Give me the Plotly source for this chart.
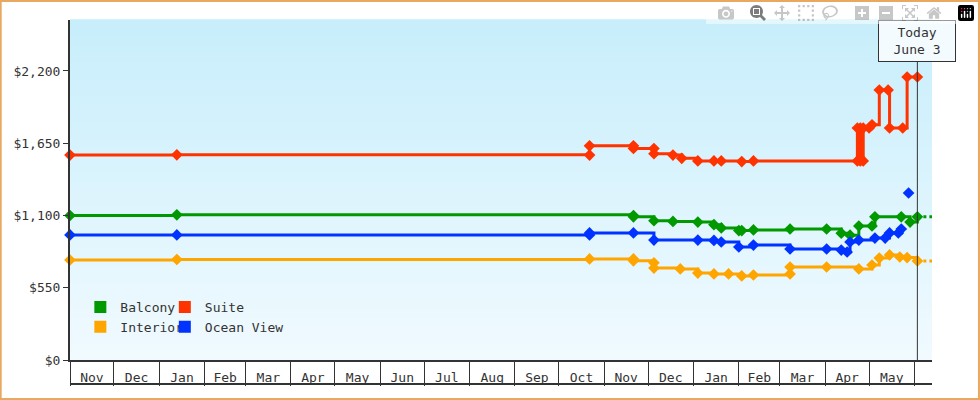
import plotly.graph_objects as go

suite_dates = ["2021-11-01","2022-01-13","2022-10-22","2022-10-22","2022-11-21","2022-11-21","2022-12-05","2022-12-05","2022-12-18","2022-12-24","2023-01-04","2023-01-15","2023-01-20","2023-02-03","2023-02-11","2023-04-23","2023-04-23","2023-04-25","2023-04-25","2023-04-27","2023-04-27","2023-05-01","2023-05-03","2023-05-08","2023-05-14","2023-05-15","2023-05-24","2023-05-27","2023-06-03"]
suite_vals = [1560,1562,1560,1630,1630,1610,1610,1570,1560,1535,1515,1515,1515,1510,1515,1515,1766,1766,1515,1515,1766,1766,1790,2055,2055,1766,1766,2154,2154]

balcony_dates = ["2021-11-01","2022-01-13","2022-11-21","2022-11-21","2022-12-05","2022-12-18","2023-01-04","2023-01-15","2023-01-20","2023-02-01","2023-02-03","2023-02-11","2023-03-08","2023-04-02","2023-04-12","2023-04-18","2023-04-24","2023-05-03","2023-05-05","2023-05-23","2023-05-29","2023-06-03"]
balcony_vals = [1100,1105,1100,1090,1060,1055,1050,1030,1005,985,985,990,997,997,965,950,1020,1020,1090,1090,1050,1090]

ocean_dates = ["2021-11-01","2022-01-13","2022-10-22","2022-10-22","2022-11-21","2022-12-05","2023-01-04","2023-01-15","2023-01-20","2023-02-01","2023-02-11","2023-03-08","2023-04-02","2023-04-12","2023-04-16","2023-04-18","2023-04-24","2023-05-05","2023-05-12","2023-05-15","2023-05-21","2023-05-23"]
ocean_vals = [952,952,952,967,967,913,913,910,898,860,875,845,845,837,822,898,913,928,928,967,967,997]
ocean_extra_dates = ["2023-05-28"]
ocean_extra_vals = [1271]

interior_dates = ["2021-11-01","2022-01-13","2022-10-22","2022-11-21","2022-11-21","2022-12-05","2022-12-05","2022-12-23","2023-01-04","2023-01-15","2023-01-25","2023-02-03","2023-02-11","2023-03-08","2023-03-08","2023-04-02","2023-04-24","2023-05-03","2023-05-08","2023-05-15","2023-05-22","2023-05-27","2023-06-03"]
interior_vals = [761,765,769,769,755,740,700,693,662,655,655,640,647,655,708,708,693,723,776,800,784,780,754]

today = "2023-06-03"
x_end = "2023-06-13"
x_start = "2021-11-01"
y_ticks = [0, 550, 1100, 1650, 2200]
y_labels = ["$0", "$550", "$1,100", "$1,650", "$2,200"]

GREEN, RED, ORANGE, BLUE = "#009900", "#ff3300", "#ffa500", "#0033ff"
fig = go.Figure()

def series(d, v, c, name):
    fig.add_trace(go.Scatter(x=d, y=v, mode="lines+markers", line=dict(color=c, width=3, shape="hv"),
                             marker=dict(symbol="diamond", size=9, color=c), name=name, showlegend=False,
                             cliponaxis=False))

series(suite_dates, suite_vals, RED, "Suite")
series(balcony_dates, balcony_vals, GREEN, "Balcony")
series(ocean_dates, ocean_vals, BLUE, "Ocean View")
series(ocean_extra_dates, ocean_extra_vals, BLUE, "Ocean View")
series(interior_dates, interior_vals, ORANGE, "Interior")
for d, v, c in [(balcony_dates, balcony_vals, GREEN), (interior_dates, interior_vals, ORANGE)]:
    fig.add_trace(go.Scatter(x=[today, x_end], y=[v[-1], v[-1]], mode="lines",
                             line=dict(color=c, width=3, dash="dot"), showlegend=False))

for name, c, lg in [("Balcony", GREEN, "legend"), ("Interior", ORANGE, "legend"), ("Suite", RED, "legend2"), ("Ocean View", BLUE, "legend2")]:
    fig.add_trace(go.Scatter(x=[None], y=[None], mode="markers", name=name,
                             marker=dict(symbol="square", size=12, color=c), legend=lg))

N = 40
shapes = []
top = (0xc8, 0xee, 0xfb); bot = (0xf0, 0xfa, 0xff)
for i in range(N):
    t = i / (N - 1)
    col = "rgb(%d,%d,%d)" % tuple(round(bot[k] + (top[k] - bot[k]) * t) for k in range(3))
    shapes.append(dict(type="rect", xref="paper", yref="paper", x0=0, x1=1, y0=i / N, y1=(i + 1) / N + 0.002,
                       fillcolor=col, line_width=0, layer="below"))
W, H, L, R, T, B = 980, 400, 70, 48, 20, 40
pw, ph = W - L - R, H - T - B
shapes.append(dict(type="line", xref="x", yref="paper", x0=today, x1=today, y0=0, y1=1, line=dict(color="#333", width=1)))
shapes.append(dict(type="line", xref="paper", yref="paper", x0=0, x1=1, y0=-24 / ph, y1=-24 / ph, line=dict(color="#333", width=2)))
shapes.append(dict(type="rect", xref="paper", yref="paper", x0=-L / pw + 0.0008, x1=1 + R / pw - 0.0012,
                   y0=-B / ph + 0.003, y1=1 + T / ph - 0.003, line=dict(color="#e8a860", width=2)))

font = "DejaVu Sans Mono"
fig.update_layout(
    width=W, height=H, margin=dict(l=L, r=R, t=T, b=B), paper_bgcolor="white", plot_bgcolor="rgba(0,0,0,0)",
    font=dict(family=font, size=13, color="#333"), shapes=shapes,
    xaxis=dict(type="date", range=[x_start, x_end], dtick="M1", tick0=x_start, tickformat="%b",
               ticklabelmode="period", ticks="outside", ticklen=24, tickcolor="#333", tickwidth=1,
               ticklabelstandoff=-20, showgrid=False, showline=True, linecolor="#333", linewidth=2, zeroline=False),
    yaxis=dict(range=[0, 2588], tickvals=y_ticks, ticktext=y_labels, ticks="outside", ticklen=5, tickcolor="#333",
               showgrid=False, showline=True, linecolor="#333", linewidth=2, zeroline=False),
    legend=dict(x=0.012, y=0.2, xanchor="left", yanchor="top", bgcolor="rgba(0,0,0,0)", font=dict(size=13),
                itemwidth=30, tracegroupgap=0),
    legend2=dict(x=0.11, y=0.2, xanchor="left", yanchor="top", bgcolor="rgba(0,0,0,0)", font=dict(size=13),
                 itemwidth=30, tracegroupgap=0),
    annotations=[dict(x=today, y=1, xref="x", yref="paper", yanchor="top", xanchor="center", showarrow=False,
                      text="Today<br>June 3", bordercolor="#333", borderwidth=1, borderpad=4, bgcolor="#f4fbfe",
                      font=dict(size=13), width=68)],
)
fig.write_html("out.html", post_script="document.body.style.margin='0';")
